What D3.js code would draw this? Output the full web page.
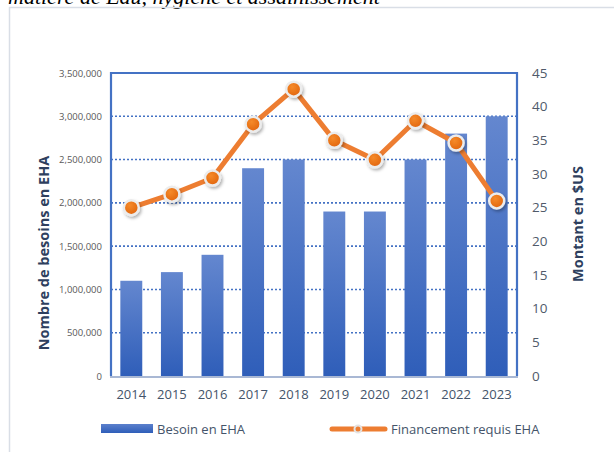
<!DOCTYPE html>
<html><head><meta charset="utf-8">
<script src="https://cdn.jsdelivr.net/npm/d3@7"></script>
<style>body{margin:0;background:#fff;} svg{display:block;}</style>
</head><body>
<svg id="c" width="614" height="452"></svg>
<script>
const years = ["2014","2015","2016","2017","2018","2019","2020","2021","2022","2023"];
const besoins = [1100000,1200000,1400000,2400000,2500000,1900000,1900000,2500000,2800000,3000000];
const financement = [25,27,29.4,37.4,42.6,35,32.1,37.9,34.6,26];
const leftTicks = [0,500000,1000000,1500000,2000000,2500000,3000000,3500000];
const rightTicks = [0,5,10,15,20,25,30,35,40,45];

const svg = d3.select("#c");
const defs = svg.append("defs");
const g1 = defs.append("linearGradient").attr("id","barg").attr("x1",0).attr("y1",0).attr("x2",0).attr("y2",1);
g1.append("stop").attr("offset","0%").attr("stop-color","#6487CF");
g1.append("stop").attr("offset","100%").attr("stop-color","#2F5EB9");
const g2 = defs.append("linearGradient").attr("id","legg").attr("x1",0).attr("y1",0).attr("x2",0).attr("y2",1);
g2.append("stop").attr("offset","0%").attr("stop-color","#5B80CC");
g2.append("stop").attr("offset","100%").attr("stop-color","#2F5EB9");
const g3 = defs.append("radialGradient").attr("id","dotg").attr("cx","40%").attr("cy","35%").attr("r","70%");
g3.append("stop").attr("offset","0%").attr("stop-color","#F58A2A");
g3.append("stop").attr("offset","100%").attr("stop-color","#E0620A");
const f = defs.append("filter").attr("id","sh").attr("x","-50%").attr("y","-50%").attr("width","200%").attr("height","200%");
f.append("feDropShadow").attr("dx",1.5).attr("dy",2).attr("stdDeviation",1.5).attr("flood-color","#000").attr("flood-opacity",0.3);

// page title fragment (cut off at top, as in the reference)
svg.append("text").attr("x",8).attr("y",4).attr("font-family","Liberation Serif, serif")
  .attr("font-style","italic").attr("font-size",22).attr("fill","#000")
  .text("matière de Eau, hygiène et assainissement");

// outer frame
svg.append("rect").attr("x",9.5).attr("y",7.5).attr("width",620).attr("height",460)
  .attr("fill","none").attr("stroke","#D9DEE6").attr("stroke-width",1.5);

const L=111, R=517, T=73, B=376;
const x = d3.scaleBand().domain(years).range([L,R]).paddingInner(0.46).paddingOuter(0.23);
const yL = d3.scaleLinear().domain([0,3500000]).range([B,T]);
const yR = d3.scaleLinear().domain([0,45]).range([B,T]);

// gridlines
svg.append("g").selectAll("line").data(leftTicks.filter(d=>d>0 && d<3500000)).join("line")
  .attr("x1",L).attr("x2",R).attr("y1",d=>yL(d)).attr("y2",d=>yL(d))
  .attr("stroke","#4472C4").attr("stroke-width",1.6).attr("stroke-dasharray","2,2");

// bars
svg.append("g").selectAll("rect").data(years).join("rect")
  .attr("x",d=>x(d)).attr("width",x.bandwidth())
  .attr("y",(d,i)=>yL(besoins[i])).attr("height",(d,i)=>B-yL(besoins[i]))
  .attr("fill","url(#barg)");

// plot box
svg.append("path").attr("d",`M${L},${B}V${T}H${R}V${B}`).attr("fill","none")
  .attr("stroke","#4472C4").attr("stroke-width",2.2);
svg.append("line").attr("x1",L-1).attr("x2",R+1).attr("y1",B+1).attr("y2",B+1)
  .attr("stroke","#A9B8D4").attr("stroke-width",2);

// line
const line = d3.line().x((d,i)=>x(years[i])+x.bandwidth()/2).y(d=>yR(d));
svg.append("path").datum(financement).attr("d",line).attr("fill","none")
  .attr("stroke","#ED7D31").attr("stroke-width",5).attr("stroke-linejoin","round");
svg.append("g").selectAll("circle").data(financement).join("circle")
  .attr("cx",(d,i)=>x(years[i])+x.bandwidth()/2).attr("cy",d=>yR(d)).attr("r",7.5)
  .attr("fill","url(#dotg)").attr("stroke","#ECECEC").attr("stroke-width",2.5).attr("filter","url(#sh)");

// left axis
const axL = d3.axisLeft(yL).tickValues(leftTicks).tickSize(0).tickPadding(9).tickFormat(d3.format(","));
const gl = svg.append("g").attr("transform",`translate(${L},0)`).call(axL);
gl.select(".domain").remove();
gl.selectAll("text").attr("font-family","'Open Sans', sans-serif").attr("font-size",9.5).attr("fill","#595959");

// right axis
const axR = d3.axisRight(yR).tickValues(rightTicks).tickSize(0).tickPadding(15);
const gr = svg.append("g").attr("transform",`translate(${R},0)`).call(axR);
gr.select(".domain").remove();
gr.selectAll("text").attr("font-family","'Open Sans', sans-serif").attr("font-size",13.5).attr("fill","#505A6A");

// x axis
const axX = d3.axisBottom(x).tickSize(0).tickPadding(14);
const gx = svg.append("g").attr("transform",`translate(0,${B})`).call(axX);
gx.select(".domain").remove();
gx.selectAll("text").attr("font-family","'Open Sans', sans-serif").attr("font-size",13).attr("fill","#44546A");

// axis titles
svg.append("text").attr("transform","translate(49,253) rotate(-90)").attr("text-anchor","middle")
  .attr("font-family","'Open Sans', sans-serif").attr("font-weight","bold").attr("font-size",14.5)
  .attr("fill","#2E3F5E").text("Nombre de besoins en EHA");
svg.append("text").attr("transform","translate(583,224) rotate(-90)").attr("text-anchor","middle")
  .attr("font-family","'Open Sans', sans-serif").attr("font-weight","bold").attr("font-size",14.5)
  .attr("fill","#2E3F5E").text("Montant en $US");

// legend
svg.append("rect").attr("x",101).attr("y",424).attr("width",52).attr("height",9).attr("fill","url(#legg)");
svg.append("text").attr("x",157).attr("y",434).attr("font-family","'Open Sans', sans-serif").attr("font-size",13)
  .attr("fill","#44546A").text("Besoin en EHA");
svg.append("line").attr("x1",332).attr("x2",385).attr("y1",429).attr("y2",429)
  .attr("stroke","#ED7D31").attr("stroke-width",5).attr("stroke-linecap","round");
svg.append("circle").attr("cx",358).attr("cy",429).attr("r",3.5).attr("fill","#ED7D31").attr("stroke","#E3E3E3").attr("stroke-width",2);
svg.append("text").attr("x",391).attr("y",434).attr("font-family","'Open Sans', sans-serif").attr("font-size",13)
  .attr("fill","#44546A").text("Financement requis EHA");
</script>
</body></html>
